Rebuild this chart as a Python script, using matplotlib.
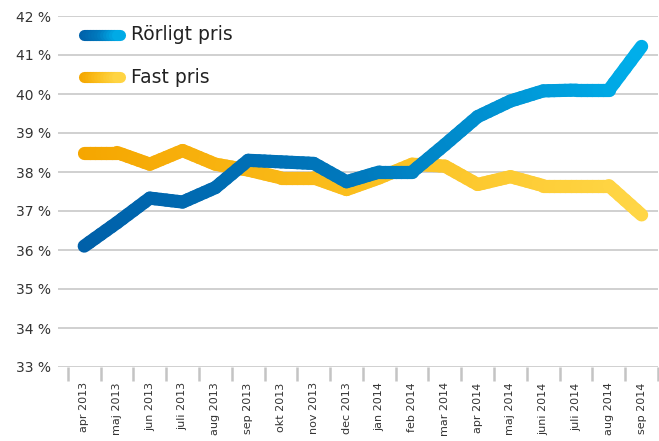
import numpy as np
import matplotlib
matplotlib.use("Agg")
import matplotlib.pyplot as plt
from matplotlib.collections import LineCollection
from matplotlib.colors import LinearSegmentedColormap

months = ["apr 2013", "maj 2013", "jun 2013", "juli 2013", "aug 2013", "sep 2013",
          "okt 2013", "nov 2013", "dec 2013", "jan 2014", "feb 2014", "mar 2014",
          "apr 2014", "maj 2014", "juni 2014", "juli 2014", "aug 2014", "sep 2014"]
rorligt = [36.1, 36.7, 37.33, 37.23, 37.6, 38.3, 38.26, 38.22, 37.75, 38.0, 38.0, 38.7,
           39.42, 39.82, 40.08, 40.1, 40.1, 41.22]
fast = [38.5, 38.5, 38.2, 38.55, 38.2, 38.05, 37.85, 37.85, 37.55, 37.85, 38.2, 38.15,
        37.68, 37.88, 37.65, 37.65, 37.65, 36.9]
series_names = ["Rörligt pris", "Fast pris"]
yticks = list(range(33, 43))

blue_cmap = LinearSegmentedColormap.from_list("blue", ["#0060A9", "#0079BD", "#00AEEA"])
orange_cmap = LinearSegmentedColormap.from_list("orange", ["#F5A600", "#FBBF1E", "#FFD646"])

plt.rcParams['font.family'] = ['DejaVu Sans']

fig = plt.figure(figsize=(6.59, 4.41), dpi=100)
ax = fig.add_axes([58 / 659, 74 / 441, 600 / 659, 351 / 441])

x = np.arange(len(months))


def gradient_line(ax, xs, ys, cmap, lw, transform=None, steps=1):
    # split each segment into a few pieces so the colour fades smoothly
    pts_x, pts_y = [], []
    for i in range(len(xs) - 1):
        for t in np.linspace(0, 1, steps, endpoint=False):
            pts_x.append(xs[i] + (xs[i + 1] - xs[i]) * t)
            pts_y.append(ys[i] + (ys[i + 1] - ys[i]) * t)
    pts_x.append(xs[-1])
    pts_y.append(ys[-1])
    pts = np.column_stack([pts_x, pts_y])
    segs = np.stack([pts[:-1], pts[1:]], axis=1)
    xmid = (pts[:-1, 0] + pts[1:, 0]) / 2
    norm = (xmid - min(xs)) / (max(xs) - min(xs))
    kw = {}
    if transform is not None:
        kw['transform'] = transform
    lc = LineCollection(segs, colors=cmap(norm), linewidths=lw, capstyle='round',
                        joinstyle='round', **kw)
    ax.add_collection(lc)
    return lc


gradient_line(ax, x, fast, orange_cmap, 9.5, steps=6)
gradient_line(ax, x, rorligt, blue_cmap, 9.5, steps=6)

ax.set_xlim(-0.8, 17.5)
ax.set_ylim(33, 42)
ax.set_yticks(yticks)
ax.set_yticklabels([f"{v} %" for v in yticks], fontsize=10, color="#333333")
ax.set_xticks(x)
ax.set_xticklabels(months, rotation=90, fontsize=8, color="#333333")
ax.set_xticks(np.arange(-0.5, 18, 1), minor=True)
ax.tick_params(axis='x', which='major', length=0, pad=11)
ax.tick_params(axis='x', which='minor', length=10, width=1.8, color="#C4C4C4")
ax.tick_params(axis='y', length=0, pad=5)

ax.grid(True, axis='y', color="#C4C4C4", linewidth=1.1)
ax.set_axisbelow(True)
for s in ax.spines.values():
    s.set_visible(False)

# legend with gradient swatches
gradient_line(ax, [0.043, 0.103], [0.946, 0.946], blue_cmap, 8, transform=ax.transAxes, steps=12)
gradient_line(ax, [0.043, 0.103], [0.826, 0.826], orange_cmap, 8, transform=ax.transAxes, steps=12)
ax.text(0.122, 0.946, series_names[0], transform=ax.transAxes, fontsize=13.5,
        va='center', ha='left', color="#222222")
ax.text(0.122, 0.826, series_names[1], transform=ax.transAxes, fontsize=13.5,
        va='center', ha='left', color="#222222")

fig.savefig("out.png", dpi=100)
